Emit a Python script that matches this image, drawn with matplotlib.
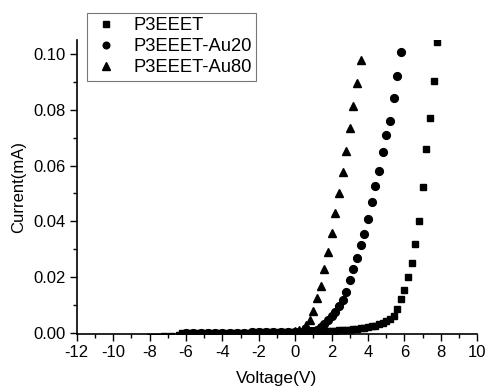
import matplotlib
matplotlib.use("Agg")
import matplotlib.pyplot as plt
from matplotlib.ticker import MultipleLocator

plt.rcParams['font.family'] = ['Liberation Sans', 'DejaVu Sans']

# P3EEET (squares)
v_p3 = [-8.0, -7.6, -7.2, -6.8, -6.4, -6.2, -6.0, -5.8, -5.6, -5.4, -5.2, -5.0, -4.8, -4.6, -4.4, -4.2,
        -4.0, -3.8, -3.6, -3.4, -3.2, -3.0, -2.8, -2.6, -2.4, -2.2, -2.0, -1.8, -1.6, -1.4, -1.2,
        -1.0, -0.8, -0.6, -0.4, -0.2, 0.0, 0.2, 0.4, 0.6, 0.8, 1.0, 1.2, 1.4, 1.6, 1.8, 2.0,
        2.2, 2.4, 2.6, 2.8, 3.0, 3.2, 3.4, 3.6, 3.8, 4.0, 4.2, 4.4, 4.6, 4.8, 5.0, 5.2, 5.4,
        5.6, 5.8, 6.0, 6.2, 6.4, 6.6, 6.8, 7.0, 7.2, 7.4, 7.6, 7.8]
i_p3 = [-0.0014, -0.0013, -0.0012, -0.0010, -0.0006, 0.0000, 0.0001, 0.0001, 0.0001, 0.0001, 0.0001, 0.0001, 0.0001, 0.0001, 0.0001, 0.0001,
        0.0002, 0.0002, 0.0002, 0.0002, 0.0002, 0.0002, 0.0002, 0.0002, 0.0003, 0.0003, 0.0003, 0.0003, 0.0003, 0.0003, 0.0003,
        0.0004, 0.0004, 0.0004, 0.0004, 0.0004, 0.0005, 0.0005, 0.0005, 0.0006, 0.0006, 0.0006, 0.0007, 0.0007, 0.0008, 0.0008, 0.0009,
        0.0009, 0.0010, 0.0011, 0.0012, 0.0013, 0.0014, 0.0015, 0.0017, 0.0019, 0.0021, 0.0024, 0.0027, 0.0031, 0.0036, 0.0042, 0.0050, 0.0062,
        0.0086, 0.0122, 0.0155, 0.0202, 0.0250, 0.0320, 0.0400, 0.0524, 0.0658, 0.0769, 0.0902, 0.1042]

# P3EEET-Au20 (circles)
v_au20 = [-6.0, -5.6, -5.2, -4.8, -4.4, -4.0, -3.6, -3.2, -2.8, -2.4, -2.0, -1.6, -1.2, -0.8, -0.4,
          0.0, 0.2, 0.4, 0.6, 0.8, 1.0, 1.2, 1.4, 1.6, 1.8, 2.0, 2.2, 2.4, 2.6, 2.8, 3.0, 3.2,
          3.4, 3.6, 3.8, 4.0, 4.2, 4.4, 4.6, 4.8, 5.0, 5.2, 5.4, 5.6, 5.8]
i_au20 = [0.0001, 0.0001, 0.0001, 0.0001, 0.0001, 0.0002, 0.0002, 0.0002, 0.0002, 0.0003, 0.0003, 0.0003, 0.0004, 0.0004, 0.0004,
          0.0005, 0.0005, 0.0005, 0.0006, 0.0006, 0.0008, 0.0013, 0.0022, 0.0033, 0.0046, 0.0061, 0.0077, 0.0096, 0.0118, 0.0147, 0.0190, 0.0229,
          0.0269, 0.0317, 0.0354, 0.0410, 0.0471, 0.0527, 0.0582, 0.0648, 0.0709, 0.0759, 0.0841, 0.0922, 0.1007]

# P3EEET-Au80 (triangles)
v_au80 = [-6.0, -5.6, -5.2, -4.8, -4.4, -4.0, -3.6, -3.2, -2.8, -2.4, -2.0, -1.6, -1.2, -0.8, -0.4,
          0.0, 0.2, 0.4, 0.6, 0.8, 1.0, 1.2, 1.4, 1.6, 1.8, 2.0, 2.2, 2.4, 2.6, 2.8, 3.0, 3.2, 3.4, 3.6]
i_au80 = [0.0001, 0.0001, 0.0001, 0.0001, 0.0001, 0.0002, 0.0002, 0.0002, 0.0002, 0.0003, 0.0003, 0.0003, 0.0004, 0.0004, 0.0005,
          0.0006, 0.0010, 0.0016, 0.0028, 0.0048, 0.0079, 0.0126, 0.0170, 0.0229, 0.0290, 0.0360, 0.0430, 0.0502, 0.0576, 0.0653, 0.0733, 0.0813, 0.0896, 0.0978]

x_ticks = [-12, -10, -8, -6, -4, -2, 0, 2, 4, 6, 8, 10]
y_ticks = [0.00, 0.02, 0.04, 0.06, 0.08, 0.10]

fig = plt.figure(figsize=(4.89, 3.87), dpi=100)
ax = fig.add_axes([0.157, 0.137, 0.819, 0.760])

ax.plot(v_p3, i_p3, 's', color='black', markersize=5.0, linestyle='none', label='P3EEET')
ax.plot(v_au20, i_au20, 'o', color='black', markersize=5.6, linestyle='none', label='P3EEET-Au20')
ax.plot(v_au80, i_au80, '^', color='black', markersize=6.2, linestyle='none', label='P3EEET-Au80')

ax.set_xlim(-12, 10)
ax.set_ylim(-0.0003, 0.105)
ax.set_xticks(x_ticks)
ax.set_xticklabels([str(t) for t in x_ticks])
ax.set_yticks(y_ticks)
ax.set_yticklabels([f"{t:.2f}" for t in y_ticks])
ax.xaxis.set_minor_locator(MultipleLocator(1))
ax.yaxis.set_minor_locator(MultipleLocator(0.01))
ax.tick_params(axis='both', which='major', direction='out', length=5, width=1, labelsize=12, colors='black', pad=3)
ax.tick_params(axis='both', which='minor', direction='out', length=3, width=1)
ax.spines['top'].set_visible(False)
ax.spines['right'].set_visible(False)
for s in ('left', 'bottom'):
    ax.spines[s].set_linewidth(1.2)

ax.set_xlabel('Voltage(V)', fontsize=12.5, labelpad=7.5)
ax.set_ylabel('Current(mA)', fontsize=12, labelpad=5)

leg = ax.legend(loc='upper left', bbox_to_anchor=(0.025, 1.093), fontsize=13.2, frameon=True,
                fancybox=False, edgecolor='#555555', handletextpad=0.7, borderpad=0.25,
                labelspacing=0.22, handlelength=1.6, markerscale=0.85, borderaxespad=0)
leg.get_frame().set_linewidth(0.8)

fig.savefig('out.png', dpi=100)
